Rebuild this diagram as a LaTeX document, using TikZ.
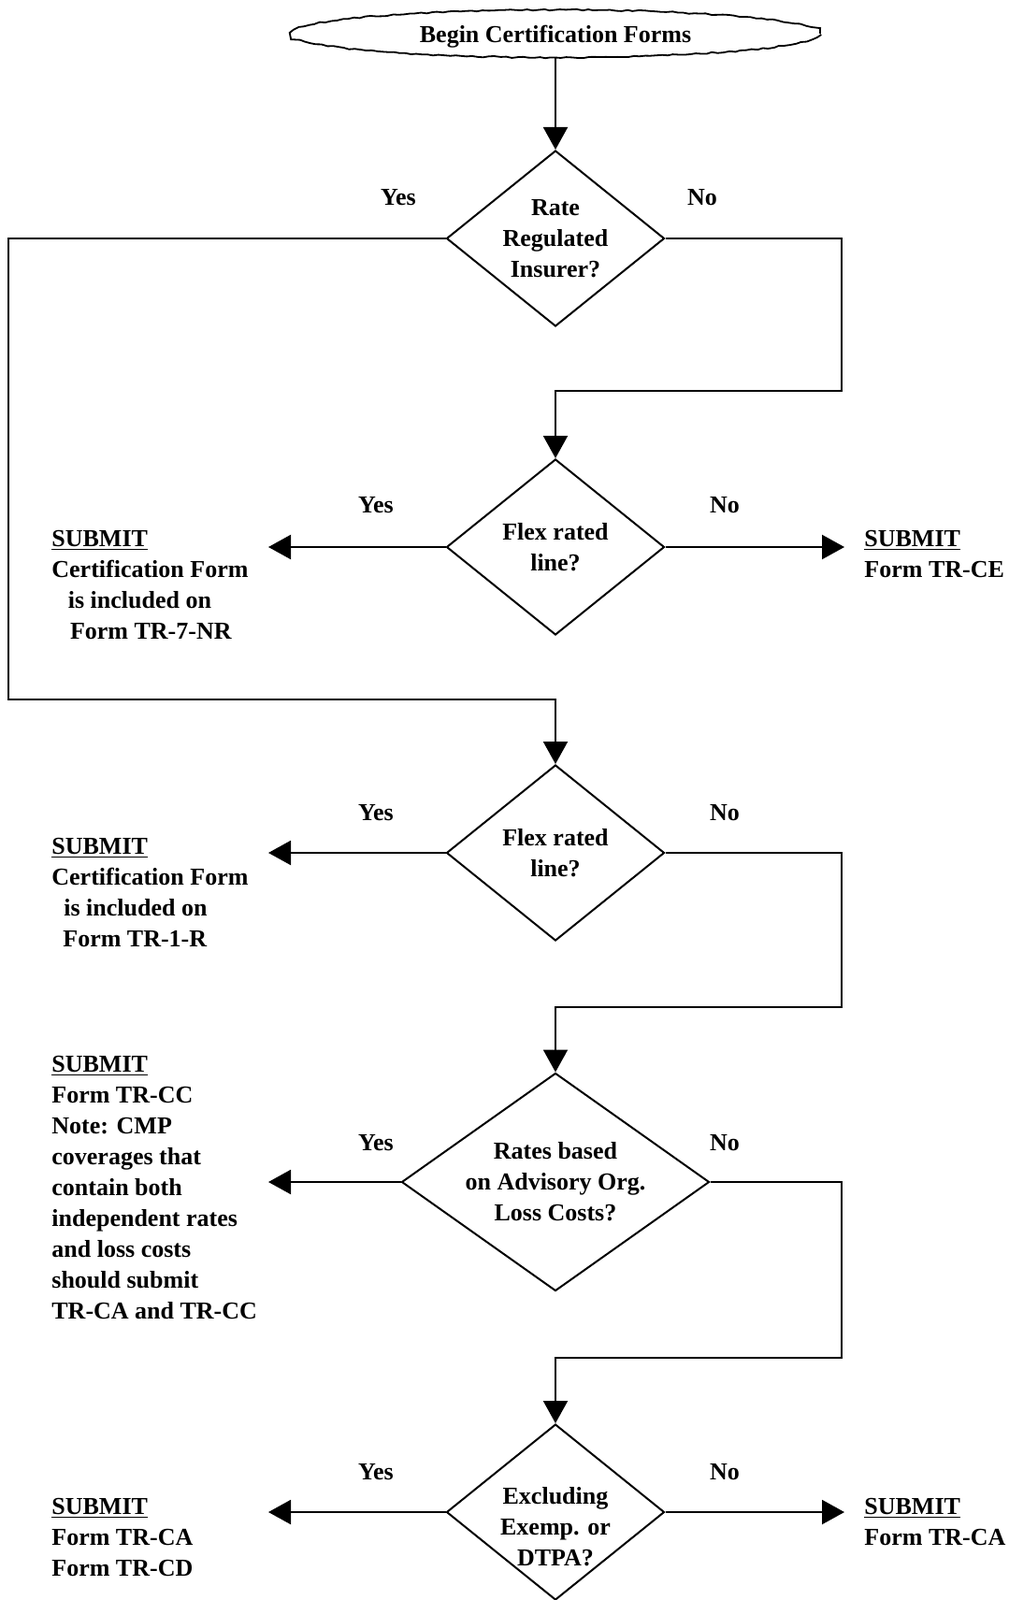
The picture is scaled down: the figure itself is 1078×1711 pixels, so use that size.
\documentclass[tikz,border=0pt]{standalone}
\usepackage{fontspec}
\setmainfont{Liberation Serif}
\usetikzlibrary{shapes.geometric,arrows.meta,decorations.pathmorphing}

\tikzset{
  every node/.style={font=\fontsize{13}{16.5}\selectfont\bfseries},
  decision/.style={draw, diamond, inner sep=0pt, line width=1pt},
  dtext/.style={align=center, inner sep=0pt},
  submit/.style={align=left, anchor=north west, inner sep=0pt},
  flow/.style={line width=1pt, -{Triangle[length=12pt,width=13pt]}},
}

\begin{document}
\begin{tikzpicture}[x=0.5pt, y=-0.5pt]
                \useasboundingbox (0,0) rectangle (1078,1711);

                \node[draw, ellipse, minimum width=283pt, minimum height=25.5pt, inner sep=0pt, text depth=0pt, line width=0.9pt,
                      decorate, decoration={random steps, segment length=3pt, amplitude=0.4pt}] (start) at (594,36) {Begin Certification Forms};

                % decisions
                \node[decision, minimum width=116.5pt, minimum height=94pt, label={[dtext]center:{Rate\\Regulated\\Insurer?}}] (d1) at (594,255) {};
                \node[decision, minimum width=116.5pt, minimum height=94pt, label={[dtext]center:{Flex rated\\line?}}] (d2) at (594,585) {};
                \node[decision, minimum width=116.5pt, minimum height=94pt, label={[dtext]center:{Flex rated\\line?}}] (d3) at (594,912) {};
                \node[decision, minimum width=164.5pt, minimum height=116.5pt, label={[dtext]center:{Rates based\\on Advisory Org.\\Loss Costs?}}] (d4) at (594,1264) {};
                \node[decision, minimum width=116.5pt, minimum height=94pt, label={[dtext,yshift=-8pt]center:{Excluding\\Exemp. or\\DTPA?}}] (d5) at (594,1617) {};

                % answers
                \node (y1) at (426,211) {Yes};
                \node (n1) at (751,211) {No};
                \node (y2) at (402,540) {Yes};
                \node (n2) at (775,540) {No};
                \node (y3) at (402,869) {Yes};
                \node (n3) at (775,869) {No};
                \node (y4) at (402,1222) {Yes};
                \node (n4) at (775,1222) {No};
                \node (y5) at (402,1574) {Yes};
                \node (n5) at (775,1574) {No};

                % results
                \node[submit] (s2l) at (55,567) {\underline{SUBMIT}\\Certification Form\\\hspace*{8.75pt}is included on\\\hspace*{9.8pt}Form TR-7-NR};
                \node[submit] (s2r) at (924,567) {\underline{SUBMIT}\\Form TR-CE};
                \node[submit] (s3l) at (55,895.5) {\underline{SUBMIT}\\Certification Form\\\hspace*{6.5pt}is included on\\\hspace*{6pt}Form TR-1-R};
                \node[submit] (s4l) at (55,1129) {\underline{SUBMIT}\\Form TR-CC\\Note: CMP\\coverages that\\contain both\\independent rates\\and loss costs\\should submit\\TR-CA and TR-CC};
                \node[submit] (s5l) at (55,1601.5) {\underline{SUBMIT}\\Form TR-CA\\Form TR-CD};
                \node[submit] (s5r) at (924,1601.5) {\underline{SUBMIT}\\Form TR-CA};

                \coordinate (tipL) at (287,0);
                \coordinate (tipR) at (903,0);
                \coordinate (j2) at (900,418);
                \coordinate (j3) at (9,748);
                \coordinate (j4) at (900,1077);
                \coordinate (j5) at (900,1452);

                \draw[flow] (start) -- (d1);
                \draw[flow] (d1.east) -| (j2) -| (d2.north);
                \draw[flow] (d1.west) -| (j3) -| (d3.north);
                \draw[flow] (d3.east) -| (j4) -| (d4.north);
                \draw[flow] (d4.east) -| (j5) -| (d5.north);

                \draw[flow] (d2.west) -- (d2.west -| tipL);
                \draw[flow] (d2.east) -- (d2.east -| tipR);
                \draw[flow] (d3.west) -- (d3.west -| tipL);
                \draw[flow] (d4.west) -- (d4.west -| tipL);
                \draw[flow] (d5.west) -- (d5.west -| tipL);
                \draw[flow] (d5.east) -- (d5.east -| tipR);
            \end{tikzpicture}
\end{document}
